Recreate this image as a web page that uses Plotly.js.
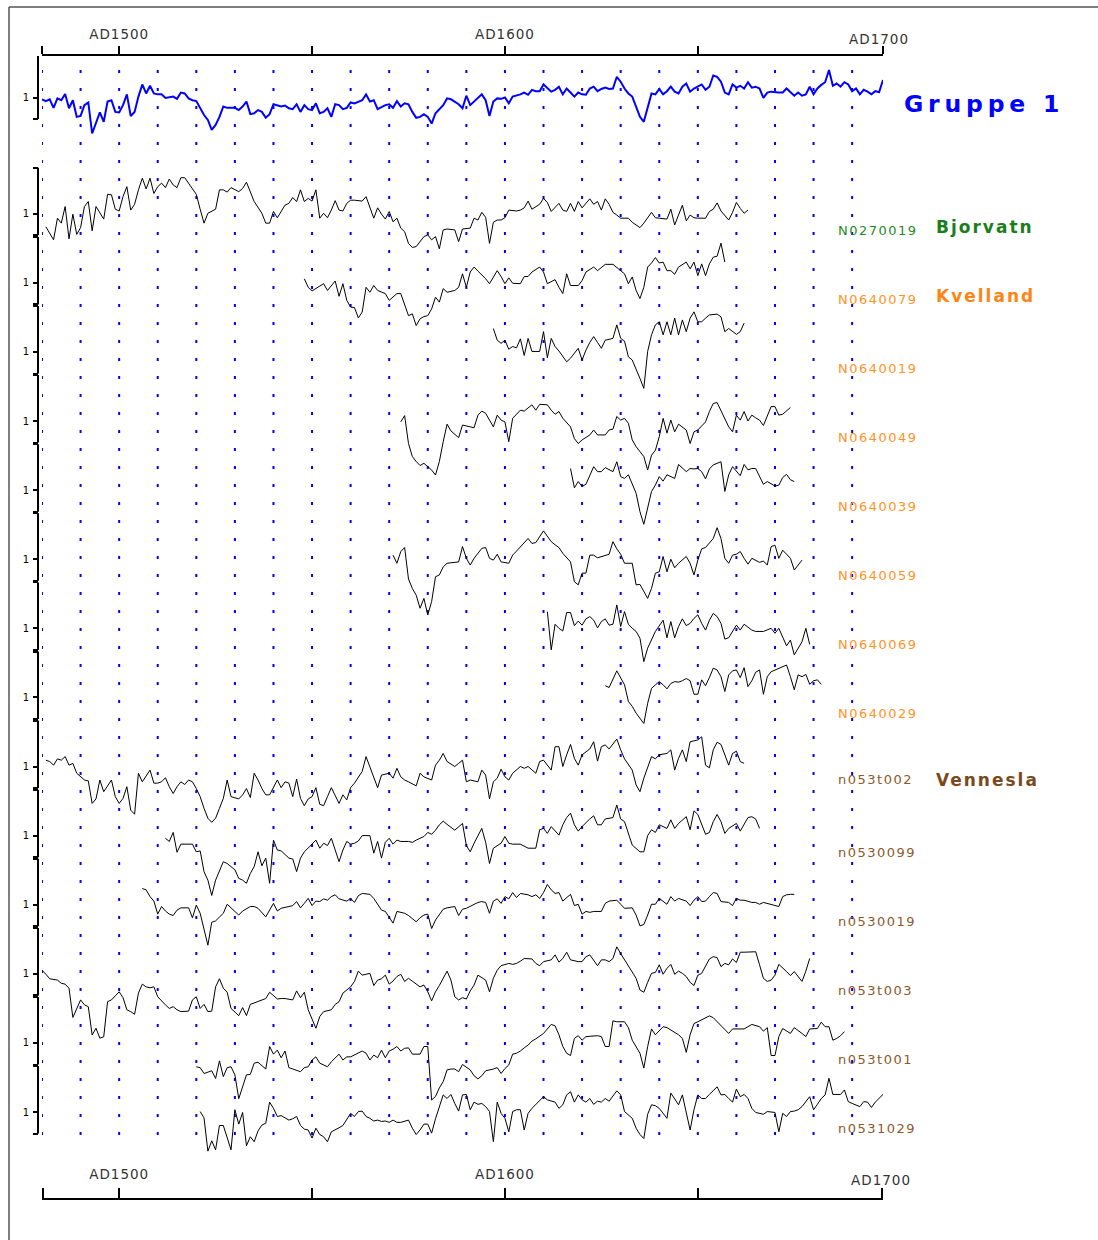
<!DOCTYPE html>
<html><head><meta charset="utf-8">
<script src="https://cdn.plot.ly/plotly-3.0.1.min.js"></script>
<style>html,body{margin:0;padding:0;background:#fff;}#chart{width:1098px;height:1240px;}</style>
</head><body><div id="chart"></div>
<script>
// ---------- data: [year, index] ----------
const Gruppe1 = [[1480,.96],[1481,.92],[1482,.96],[1483,.77],[1484,.98],[1485,.94],[1486,1.08],[1487,.76],[1488,.94],[1489,.57],[1490,.59],[1491,.83],[1492,.89],[1493,.20],[1495,.67],[1496,.46],[1497,.91],[1498,.94],[1499,.68],[1500,.67],[1501,.83],[1502,1.07],[1503,.59],[1504,.68],[1505,1.02],[1506,1.29],[1507,1.09],[1508,1.26],[1509,1.09],[1510,1.07],[1511,1.07],[1512,.99],[1514,1.02],[1515,.97],[1516,1.11],[1517,1.09],[1518,.98],[1519,.94],[1520,.92],[1521,.76],[1522,.61],[1523,.50],[1524,.28],[1525,.39],[1526,.57],[1527,.80],[1528,.77],[1530,.77],[1531,.72],[1532,.80],[1533,.91],[1534,.63],[1535,.65],[1536,.72],[1537,.68],[1538,.55],[1539,.63],[1540,.85],[1541,.83],[1542,.80],[1543,.82],[1544,.76],[1545,.74],[1546,.85],[1547,.68],[1548,.83],[1549,.74],[1550,.72],[1551,.87],[1552,.65],[1553,.68],[1554,.76],[1555,.57],[1556,.85],[1557,.83],[1558,.74],[1559,.77],[1560,.89],[1561,.87],[1562,.91],[1563,.94],[1564,1.07],[1565,.91],[1566,.94],[1567,.74],[1569,.83],[1570,.85],[1571,.77],[1572,.92],[1573,.80],[1574,.87],[1575,.85],[1576,.68],[1577,.55],[1578,.57],[1579,.63],[1580,.57],[1581,.42],[1582,.65],[1584,.83],[1585,.98],[1586,.96],[1588,.85],[1589,.76],[1590,1.04],[1591,.83],[1592,.91],[1593,1.00],[1594,1.07],[1595,.94],[1596,.59],[1597,.91],[1598,.98],[1599,.97],[1600,1.00],[1601,.87],[1602,1.02],[1604,1.07],[1605,1.11],[1606,1.06],[1607,1.17],[1608,1.14],[1609,1.14],[1610,1.29],[1611,1.20],[1612,1.13],[1613,1.17],[1614,1.24],[1615,1.07],[1616,1.20],[1617,1.11],[1618,1.02],[1619,1.11],[1620,1.07],[1621,1.06],[1622,1.20],[1623,1.24],[1624,1.14],[1625,1.19],[1626,1.22],[1627,1.19],[1628,1.20],[1629,1.46],[1630,1.35],[1631,1.20],[1632,1.09],[1633,1.02],[1634,.80],[1635,.57],[1636,.46],[1637,.77],[1638,1.09],[1639,1.07],[1640,1.19],[1641,1.07],[1642,1.14],[1643,1.24],[1644,1.13],[1645,1.09],[1646,1.24],[1647,1.31],[1648,1.13],[1649,1.20],[1650,1.24],[1651,1.29],[1652,1.17],[1653,1.24],[1654,1.49],[1655,1.46],[1656,1.35],[1657,1.11],[1658,1.07],[1659,1.29],[1660,1.22],[1661,1.26],[1662,1.20],[1663,1.34],[1664,1.22],[1665,1.24],[1666,1.20],[1667,.99],[1668,1.11],[1669,1.13],[1671,1.11],[1672,1.11],[1673,1.20],[1674,1.11],[1675,1.04],[1676,1.11],[1677,1.04],[1678,1.07],[1679,1.24],[1680,1.07],[1681,1.20],[1682,1.28],[1683,1.34],[1684,1.61],[1685,1.26],[1686,1.31],[1687,1.24],[1688,1.34],[1689,1.29],[1690,1.14],[1691,1.20],[1692,1.07],[1693,1.17],[1694,1.13],[1695,1.07],[1696,1.14],[1697,1.12],[1698,1.39]];

const N0270019 = [[1481,.71],[1482,.56],[1483,.42],[1484,.90],[1485,.79],[1486,1.16],[1487,.44],[1488,.99],[1489,.54],[1490,.69],[1491,1.16],[1492,1.27],[1493,.62],[1494,1.16],[1496,.88],[1497,1.43],[1498,1.42],[1499,1.10],[1500,1.06],[1501,1.38],[1502,1.60],[1503,1.08],[1504,1.21],[1505,1.53],[1506,1.79],[1507,1.55],[1508,1.79],[1509,1.45],[1510,1.60],[1511,1.68],[1512,1.58],[1513,1.77],[1514,1.64],[1515,1.58],[1516,1.80],[1517,1.80],[1518,1.68],[1519,1.56],[1520,1.43],[1521,1.10],[1522,.79],[1523,1.01],[1524,1.06],[1525,1.10],[1526,1.53],[1527,1.53],[1528,1.48],[1529,1.58],[1531,1.49],[1532,1.56],[1533,1.70],[1534,1.48],[1535,1.27],[1537,1.01],[1538,.79],[1539,.79],[1540,1.05],[1541,.91],[1542,1.06],[1543,1.19],[1544,1.23],[1545,1.36],[1546,1.27],[1547,1.53],[1548,1.27],[1549,1.34],[1550,1.28],[1551,1.53],[1552,.90],[1553,1.01],[1554,.91],[1555,1.08],[1556,1.29],[1557,1.08],[1558,1.06],[1559,1.23],[1560,1.30],[1561,1.30],[1563,1.28],[1564,1.38],[1566,.90],[1567,1.13],[1568,.99],[1569,.88],[1570,1.05],[1571,.82],[1572,.90],[1573,.68],[1574,.60],[1575,.34],[1576,.25],[1577,.27],[1579,.49],[1580,.53],[1581,.42],[1582,.49],[1583,.22],[1584,.64],[1585,.66],[1587,.64],[1588,.38],[1589,.66],[1591,.68],[1592,.90],[1593,.86],[1594,1.03],[1595,.92],[1596,.34],[1597,.81],[1598,.86],[1599,.86],[1600,.91],[1601,1.08],[1603,1.06],[1604,1.08],[1605,1.13],[1606,1.28],[1607,1.10],[1609,1.21],[1610,1.34],[1611,1.25],[1612,1.05],[1614,1.23],[1615,1.08],[1616,1.05],[1617,1.23],[1618,1.05],[1619,1.27],[1620,1.13],[1621,1.23],[1622,1.33],[1623,1.21],[1624,1.27],[1625,1.08],[1626,1.33],[1627,1.21],[1628,1.03],[1629,.97],[1630,.90],[1632,.90],[1633,.81],[1635,.69],[1636,.79],[1638,1.03],[1639,.91],[1640,.90],[1642,.88],[1643,1.10],[1644,.75],[1645,.97],[1646,1.19],[1647,.84],[1648,.97],[1649,.91],[1650,.90],[1652,.90],[1653,1.05],[1654,1.10],[1655,1.24],[1656,1.06],[1658,.86],[1659,1.03],[1660,1.25],[1661,1.12],[1662,1.01],[1663,1.08]];

const N0640079 = [[1548,1.09],[1549,.90],[1550,.82],[1551,.87],[1553,.98],[1554,.83],[1556,1.04],[1557,.70],[1558,.98],[1559,.61],[1560,.46],[1561,.45],[1562,.22],[1563,.35],[1564,.90],[1565,.79],[1566,.94],[1567,.83],[1569,.76],[1570,.61],[1572,.76],[1573,.76],[1574,.53],[1575,.27],[1576,.31],[1577,.05],[1578,.20],[1579,.25],[1580,.27],[1581,.42],[1582,.68],[1583,.57],[1584,.87],[1585,.79],[1587,.83],[1588,.90],[1589,1.20],[1590,.90],[1591,1.24],[1592,1.35],[1593,1.26],[1595,1.09],[1596,.98],[1597,1.11],[1598,1.27],[1599,1.14],[1600,.98],[1601,1.11],[1602,.99],[1604,.98],[1605,1.14],[1606,1.14],[1607,1.24],[1609,1.35],[1610,1.24],[1611,.98],[1613,1.07],[1614,.90],[1615,.76],[1616,1.20],[1617,.94],[1619,.94],[1620,1.05],[1621,1.24],[1623,1.35],[1624,1.27],[1626,1.41],[1628,1.41],[1629,1.35],[1630,1.27],[1631,1.20],[1632,.98],[1633,1.13],[1634,.83],[1635,.65],[1636,.90],[1637,1.35],[1638,1.44],[1639,1.56],[1640,1.44],[1641,1.46],[1642,1.27],[1643,1.27],[1644,1.19],[1645,1.35],[1647,1.46],[1648,1.31],[1649,1.46],[1650,1.16],[1651,1.42],[1652,1.16],[1653,1.42],[1654,1.57],[1655,1.59],[1656,1.88],[1657,1.46]];

const N0640019 = [[1597,1.52],[1598,1.26],[1599,1.19],[1600,1.26],[1601,1.06],[1602,1.12],[1603,1.09],[1604,1.29],[1605,.92],[1606,1.30],[1607,1.01],[1609,1.01],[1610,1.45],[1611,.87],[1612,1.30],[1613,1.12],[1614,1.02],[1615,.89],[1616,.78],[1617,.86],[1619,1.08],[1620,.82],[1621,1.04],[1622,1.21],[1623,1.34],[1624,1.21],[1625,1.08],[1626,1.26],[1628,1.30],[1629,1.60],[1630,1.30],[1631,1.24],[1632,.89],[1633,.82],[1634,.63],[1635,.41],[1636,.19],[1637,1.01],[1638,1.38],[1639,1.60],[1640,1.67],[1641,1.38],[1642,1.67],[1643,1.38],[1644,1.75],[1645,1.38],[1646,1.71],[1647,1.45],[1648,1.75],[1649,1.89],[1650,1.67],[1651,1.67],[1652,1.75],[1653,1.82],[1655,1.84],[1656,1.78],[1657,1.45],[1658,1.52],[1660,1.39],[1661,1.45],[1662,1.64]];

const N0640049 = [[1573,.98],[1574,1.12],[1575,.50],[1576,.21],[1577,.10],[1578,.01],[1579,.06],[1580,-.01],[1581,-.09],[1582,-.20],[1583,.10],[1584,.54],[1585,.93],[1586,.78],[1588,.63],[1589,.91],[1591,.87],[1592,.85],[1593,1.13],[1594,1.22],[1595,1.17],[1597,.87],[1598,1.13],[1599,1.02],[1600,.98],[1601,.54],[1602,1.06],[1604,1.24],[1605,1.22],[1607,1.36],[1608,1.24],[1609,1.37],[1611,1.36],[1612,1.24],[1613,1.15],[1614,1.21],[1615,1.06],[1617,.87],[1618,.61],[1619,.50],[1620,.58],[1622,.69],[1623,.80],[1624,.69],[1626,.69],[1627,.80],[1628,.82],[1629,1.10],[1630,1.02],[1631,1.06],[1632,.95],[1633,.58],[1634,.43],[1636,.21],[1637,-.09],[1638,.24],[1639,.35],[1640,.65],[1641,1.06],[1642,.73],[1643,1.02],[1644,.76],[1645,.93],[1646,.87],[1647,.80],[1648,.50],[1649,.76],[1650,.80],[1652,.98],[1653,1.21],[1654,1.39],[1655,1.41],[1657,1.06],[1658,.87],[1659,.76],[1660,1.13],[1661,1.02],[1662,1.21],[1663,1.00],[1664,1.13],[1665,1.07],[1666,1.02],[1667,.90],[1669,1.32],[1670,1.32],[1671,1.13],[1672,1.15],[1674,1.30]];

const N0640039 = [[1617,1.48],[1618,1.05],[1619,1.19],[1620,1.08],[1621,1.13],[1622,1.34],[1623,1.52],[1624,1.41],[1625,1.41],[1626,1.50],[1628,1.41],[1629,1.63],[1630,1.30],[1631,1.26],[1632,1.34],[1634,.93],[1635,.52],[1636,.24],[1637,.63],[1638,.97],[1639,1.11],[1640,1.30],[1641,1.20],[1642,1.34],[1644,1.26],[1645,1.57],[1647,1.41],[1648,1.48],[1649,1.47],[1650,1.48],[1651,1.41],[1652,1.25],[1653,1.47],[1654,1.56],[1656,1.63],[1657,.97],[1658,1.34],[1659,1.52],[1661,1.32],[1662,1.57],[1663,1.45],[1664,1.48],[1665,1.48],[1666,1.30],[1667,1.13],[1668,1.19],[1670,1.09],[1671,1.11],[1672,1.28],[1673,1.35],[1674,1.23],[1675,1.19]];

const N0640059 = [[1571,1.09],[1572,.91],[1573,1.17],[1574,1.26],[1575,.56],[1576,.35],[1577,.20],[1578,-.09],[1579,.13],[1580,-.24],[1581,.06],[1582,.61],[1583,.65],[1584,.83],[1585,.91],[1587,.94],[1588,.94],[1589,1.28],[1590,1.02],[1591,.87],[1592,1.02],[1594,1.24],[1595,1.26],[1596,1.02],[1597,.98],[1598,1.11],[1599,.94],[1601,.91],[1602,1.09],[1603,1.18],[1604,1.28],[1606,1.46],[1607,1.35],[1608,1.37],[1610,1.63],[1611,1.52],[1612,1.39],[1613,1.32],[1614,1.26],[1615,1.13],[1617,.94],[1618,.50],[1619,.43],[1620,.69],[1621,.69],[1622,1.09],[1623,1.09],[1624,1.03],[1626,1.09],[1627,1.11],[1628,1.39],[1629,1.23],[1630,1.11],[1631,.91],[1633,.91],[1634,.43],[1635,.44],[1637,.13],[1638,.35],[1639,.69],[1640,.72],[1641,1.06],[1642,.72],[1643,1.00],[1644,.81],[1645,.91],[1647,1.06],[1648,.91],[1649,.65],[1650,.98],[1651,1.23],[1652,1.26],[1654,1.46],[1655,1.70],[1656,1.46],[1657,1.02],[1658,.91],[1659,1.09],[1660,1.11],[1661,1.17],[1662,1.02],[1663,.89],[1664,1.02],[1666,.93],[1667,.96],[1668,.87],[1669,1.28],[1670,1.31],[1671,1.02],[1672,1.20],[1674,1.02],[1675,.76],[1677,.98]];

const N0640069 = [[1611,1.37],[1612,.52],[1613,1.09],[1614,1.00],[1615,.94],[1616,1.35],[1617,1.35],[1618,1.06],[1619,1.16],[1620,1.07],[1621,1.21],[1622,1.26],[1623,1.18],[1624,1.01],[1625,1.15],[1626,1.21],[1627,1.07],[1628,1.09],[1629,1.52],[1630,1.04],[1631,1.37],[1632,1.09],[1633,1.00],[1634,.93],[1635,.78],[1636,.26],[1637,.56],[1638,.74],[1639,.93],[1641,1.18],[1642,.79],[1643,1.15],[1644,.79],[1645,1.04],[1646,1.21],[1647,1.06],[1648,1.11],[1649,1.22],[1650,1.30],[1651,1.11],[1652,.96],[1653,1.18],[1654,1.33],[1655,1.26],[1656,1.11],[1657,.76],[1658,.79],[1660,1.07],[1661,.96],[1662,1.09],[1664,.96],[1665,.93],[1666,.93],[1667,.93],[1669,1.00],[1670,.89],[1671,1.00],[1672,.81],[1673,.61],[1674,.74],[1675,.41],[1677,.70],[1678,1.00],[1679,.64]];

const N0640029 = [[1626,1.26],[1627,1.22],[1629,1.59],[1630,1.44],[1631,1.28],[1632,.91],[1633,.80],[1634,.65],[1635,.54],[1636,.42],[1637,.87],[1638,1.20],[1639,1.28],[1640,1.35],[1641,1.28],[1642,1.19],[1643,1.31],[1644,1.35],[1645,1.34],[1646,1.37],[1647,1.42],[1648,1.37],[1649,1.07],[1650,1.07],[1651,1.39],[1652,1.26],[1653,1.44],[1654,1.65],[1655,1.61],[1656,1.46],[1657,1.13],[1658,1.50],[1659,1.59],[1660,1.61],[1661,1.44],[1662,1.66],[1663,1.24],[1664,1.37],[1665,1.56],[1666,1.61],[1667,1.07],[1668,1.46],[1669,1.57],[1671,1.65],[1673,1.72],[1674,1.46],[1675,1.17],[1676,1.50],[1677,1.46],[1678,1.51],[1679,1.29],[1680,1.37],[1681,1.39],[1682,1.29]];

const n053t002 = [[1481,1.14],[1482,1.11],[1483,1.03],[1484,1.17],[1485,1.14],[1486,1.22],[1487,1.03],[1488,1.07],[1489,.85],[1490,.77],[1491,.70],[1492,.68],[1493,.18],[1494,.28],[1495,.70],[1496,.44],[1497,.57],[1498,.70],[1499,.33],[1500,.18],[1501,.29],[1502,.55],[1503,.03],[1504,-.06],[1505,.85],[1506,.66],[1508,.92],[1509,.63],[1510,.63],[1511,.66],[1512,.75],[1513,.55],[1514,.40],[1515,.55],[1516,.66],[1517,.60],[1518,.70],[1519,.66],[1520,.51],[1521,.33],[1522,.07],[1523,-.15],[1524,-.24],[1525,-.15],[1526,.07],[1527,.29],[1528,.70],[1529,.33],[1531,.28],[1532,.37],[1533,.51],[1534,.31],[1535,.85],[1536,.70],[1537,.51],[1538,.37],[1539,.37],[1540,.55],[1541,.70],[1542,.53],[1543,.66],[1544,.63],[1545,.33],[1546,.72],[1547,.29],[1548,.13],[1549,.28],[1550,.33],[1551,.53],[1552,.16],[1553,.13],[1554,.33],[1555,.53],[1557,.18],[1558,.37],[1559,.26],[1560,.53],[1561,.63],[1563,.89],[1564,1.22],[1566,.75],[1567,.53],[1568,.81],[1570,.85],[1571,.74],[1572,.96],[1573,.77],[1574,.70],[1575,.66],[1577,.57],[1578,.85],[1579,.77],[1581,.70],[1582,1.03],[1583,1.14],[1584,1.29],[1585,1.11],[1587,1.00],[1588,1.07],[1589,1.14],[1590,.66],[1591,.70],[1593,.66],[1594,.92],[1595,.81],[1596,.28],[1597,.66],[1598,.74],[1599,.94],[1600,.77],[1601,.70],[1602,.85],[1604,1.00],[1605,.96],[1606,1.00],[1607,.92],[1608,.85],[1609,1.11],[1610,1.14],[1612,.92],[1613,1.44],[1614,1.44],[1615,1.00],[1616,1.26],[1617,1.49],[1618,1.18],[1619,1.03],[1620,1.26],[1622,1.39],[1623,1.55],[1624,1.12],[1625,1.44],[1626,1.48],[1627,1.39],[1629,1.61],[1630,1.37],[1631,1.17],[1633,.92],[1634,.59],[1635,.44],[1636,.74],[1638,1.22],[1639,1.17],[1640,1.26],[1642,1.29],[1643,1.37],[1644,.92],[1645,1.18],[1646,1.37],[1647,1.11],[1648,1.55],[1650,1.59],[1651,1.66],[1652,1.03],[1653,.97],[1654,1.37],[1655,1.54],[1656,1.49],[1657,1.24],[1658,1.03],[1659,1.29],[1660,1.34],[1661,1.11],[1662,1.07]];

const n0530099 = [[1512,.94],[1513,.87],[1514,1.07],[1515,.63],[1516,.81],[1519,.81],[1520,.64],[1521,.66],[1522,.20],[1523,.01],[1524,-.33],[1525,.01],[1527,.42],[1528,.38],[1530,.24],[1531,.05],[1532,.01],[1533,-.06],[1534,.16],[1535,.31],[1536,.64],[1537,.33],[1538,.50],[1539,-.06],[1540,.90],[1541,.68],[1542,.66],[1544,.50],[1545,.48],[1546,.20],[1547,.50],[1548,.64],[1550,.81],[1551,.90],[1552,.72],[1553,.83],[1554,.78],[1555,.94],[1556,.68],[1557,.42],[1558,.68],[1559,.87],[1560,.81],[1561,.83],[1562,.88],[1563,1.00],[1565,1.00],[1566,.61],[1567,.87],[1568,.50],[1569,.85],[1570,.94],[1571,.81],[1572,.90],[1573,.87],[1575,.87],[1576,.85],[1577,.90],[1579,.98],[1580,1.07],[1581,1.03],[1582,1.12],[1583,1.24],[1584,1.32],[1585,1.25],[1587,1.12],[1589,1.27],[1590,.78],[1591,.64],[1592,.83],[1594,1.16],[1595,.85],[1596,.38],[1597,.72],[1599,.83],[1600,.98],[1601,.83],[1602,.81],[1604,.81],[1606,.72],[1608,.72],[1609,1.13],[1610,1.16],[1611,1.05],[1612,1.20],[1613,1.10],[1614,1.01],[1615,1.24],[1616,1.40],[1617,1.50],[1618,1.24],[1619,1.10],[1620,1.20],[1622,1.37],[1623,1.44],[1624,1.24],[1625,1.24],[1626,1.37],[1628,1.40],[1629,1.68],[1630,1.37],[1631,1.31],[1632,1.07],[1633,.79],[1635,.64],[1636,.64],[1637,1.00],[1638,1.13],[1639,1.07],[1640,1.24],[1642,1.16],[1643,1.35],[1644,1.16],[1645,1.27],[1647,1.42],[1648,1.13],[1649,1.55],[1650,1.47],[1652,1.03],[1653,1.07],[1654,1.31],[1655,1.47],[1656,1.31],[1657,1.05],[1658,1.16],[1660,1.27],[1661,1.10],[1662,1.24],[1663,1.40],[1664,1.42],[1665,1.37],[1666,1.16]];

const n0530019 = [[1506,1.36],[1507,1.33],[1508,1.18],[1509,1.08],[1510,.79],[1511,.96],[1512,.86],[1513,.79],[1514,.76],[1515,.88],[1516,.93],[1518,.93],[1519,.71],[1520,.99],[1521,.81],[1522,.47],[1523,.10],[1524,.61],[1525,.64],[1527,.81],[1528,1.01],[1529,.93],[1531,.77],[1532,.86],[1534,.96],[1535,.96],[1536,.92],[1538,.73],[1539,.88],[1540,1.03],[1541,.86],[1542,.92],[1544,.96],[1545,.98],[1546,1.07],[1547,.93],[1548,1.03],[1549,1.14],[1550,.98],[1551,1.08],[1552,1.07],[1553,1.13],[1554,1.10],[1555,1.18],[1556,1.22],[1557,1.13],[1559,1.08],[1560,1.14],[1561,1.05],[1562,1.20],[1563,1.25],[1565,1.23],[1566,1.14],[1567,1.01],[1568,.88],[1569,.85],[1571,.59],[1572,.85],[1573,.83],[1574,.81],[1575,.76],[1577,.62],[1578,.71],[1579,.77],[1580,.79],[1581,.47],[1582,.66],[1583,.77],[1584,.90],[1585,.93],[1587,.96],[1588,.76],[1589,.90],[1590,.92],[1591,.96],[1593,1.05],[1594,1.07],[1595,1.05],[1596,.81],[1597,1.08],[1598,1.13],[1599,1.03],[1600,1.18],[1601,1.13],[1602,1.27],[1603,1.16],[1604,1.25],[1606,1.22],[1607,1.18],[1608,1.22],[1609,1.14],[1610,1.27],[1611,1.45],[1612,1.33],[1613,1.25],[1614,1.27],[1615,1.08],[1617,1.23],[1618,.98],[1619,1.01],[1620,.79],[1621,.85],[1622,.83],[1623,.85],[1625,.85],[1626,1.03],[1627,1.08],[1629,1.10],[1630,1.01],[1631,.92],[1633,.93],[1634,.77],[1635,.53],[1636,.56],[1637,.77],[1638,1.01],[1639,1.01],[1640,1.14],[1642,1.01],[1643,1.18],[1644,1.08],[1645,1.14],[1647,1.08],[1648,.98],[1649,1.10],[1650,1.18],[1651,1.07],[1652,1.08],[1653,1.18],[1654,1.27],[1655,1.25],[1656,1.07],[1658,1.05],[1659,.98],[1660,1.14],[1661,1.10],[1662,1.10],[1664,1.05],[1665,1.05],[1666,1.01],[1667,1.05],[1669,1.01],[1670,.98],[1671,.96],[1672,1.18],[1673,1.22],[1674,1.23],[1675,1.23]];

const n053t003 = [[1479,.97],[1480,1.08],[1481,.99],[1482,.89],[1484,.86],[1485,.79],[1486,.77],[1487,.68],[1488,.03],[1489,.23],[1490,.42],[1491,.31],[1492,.27],[1493,-.36],[1494,-.21],[1495,-.43],[1496,-.40],[1497,.38],[1498,.42],[1499,.51],[1500,.60],[1501,.47],[1502,.20],[1503,.16],[1504,.10],[1505,.57],[1506,.77],[1507,.71],[1508,.69],[1509,.71],[1510,.49],[1512,.31],[1513,.23],[1514,.27],[1515,.20],[1516,.16],[1518,.17],[1519,.42],[1520,.49],[1521,.23],[1522,.32],[1523,.16],[1524,.17],[1525,.71],[1526,.89],[1527,.68],[1528,.59],[1529,.23],[1530,.16],[1531,.07],[1532,.25],[1533,.07],[1534,.32],[1536,.38],[1538,.45],[1539,.59],[1541,.44],[1542,.45],[1543,.45],[1545,.42],[1546,.62],[1547,.47],[1548,.59],[1549,.20],[1550,.01],[1551,-.21],[1552,.05],[1553,.16],[1555,.20],[1556,.32],[1557,.38],[1558,.57],[1560,.71],[1561,.83],[1562,1.06],[1563,.97],[1565,1.01],[1566,.74],[1567,.86],[1568,.89],[1569,.97],[1570,.77],[1571,.84],[1572,.94],[1573,.99],[1574,.83],[1575,.90],[1576,.84],[1578,.71],[1579,.75],[1580,.60],[1581,.40],[1582,.60],[1583,.74],[1585,1.06],[1586,.86],[1587,.49],[1588,.42],[1589,.47],[1590,.44],[1591,.62],[1592,.75],[1593,.97],[1595,.86],[1596,.60],[1597,.90],[1598,1.08],[1599,1.18],[1601,1.23],[1602,1.21],[1603,1.23],[1604,1.28],[1605,1.34],[1607,1.33],[1608,1.23],[1609,1.18],[1610,1.27],[1612,1.31],[1613,1.42],[1614,1.26],[1615,1.34],[1616,1.48],[1617,1.31],[1619,1.27],[1620,1.27],[1621,1.38],[1622,1.42],[1624,1.18],[1625,1.31],[1626,1.31],[1627,1.27],[1628,1.34],[1629,1.60],[1630,1.45],[1631,1.31],[1632,1.20],[1633,1.06],[1634,.90],[1635,.64],[1636,.59],[1637,.81],[1638,1.01],[1639,1.03],[1640,1.20],[1641,.99],[1642,1.12],[1643,1.21],[1644,.99],[1645,1.06],[1646,1.01],[1647,.94],[1648,.81],[1649,.74],[1650,.97],[1651,1.01],[1652,1.18],[1653,1.33],[1654,1.38],[1655,1.36],[1656,1.16],[1657,1.23],[1658,1.20],[1659,1.33],[1660,1.25],[1661,1.48],[1662,1.48],[1664,1.48],[1665,1.49],[1666,1.20],[1667,.90],[1668,.83],[1669,.86],[1670,.97],[1671,1.21],[1673,1.05],[1674,.96],[1675,1.05],[1677,.83],[1678,1.06],[1679,1.34]];

const n053t001 = [[1520,.47],[1521,.45],[1522,.32],[1524,.38],[1525,.21],[1526,.60],[1527,.25],[1528,.45],[1529,.47],[1530,.29],[1531,-.24],[1532,.03],[1533,.29],[1534,.30],[1535,.55],[1536,.57],[1538,.42],[1539,.92],[1540,.75],[1541,.84],[1542,.67],[1543,.82],[1544,.45],[1545,.42],[1547,.36],[1548,.45],[1549,.47],[1550,.62],[1551,.69],[1552,.55],[1553,.51],[1554,.47],[1555,.58],[1556,.67],[1557,.75],[1558,.62],[1559,.69],[1560,.69],[1561,.73],[1563,.82],[1564,.77],[1565,.62],[1566,.73],[1567,.67],[1568,.84],[1569,.67],[1570,.82],[1571,.86],[1572,.92],[1573,.82],[1574,.88],[1575,.89],[1576,.75],[1578,.75],[1579,.92],[1580,.92],[1581,-.27],[1582,-.19],[1583,.00],[1584,.14],[1585,.40],[1586,.42],[1587,.42],[1588,.36],[1589,.52],[1590,.45],[1591,.40],[1592,.27],[1593,.20],[1594,.27],[1595,.38],[1597,.42],[1598,.45],[1599,.32],[1600,.43],[1601,.51],[1602,.75],[1603,.77],[1604,.82],[1605,.89],[1606,.95],[1607,1.04],[1608,1.09],[1610,1.21],[1611,1.31],[1612,1.41],[1613,1.38],[1614,1.18],[1615,.92],[1616,.77],[1617,.72],[1618,1.10],[1619,1.16],[1620,1.06],[1621,1.14],[1623,1.16],[1624,1.16],[1625,1.14],[1626,.92],[1627,.92],[1628,1.49],[1629,1.47],[1631,1.47],[1632,1.34],[1633,1.06],[1635,.77],[1636,.44],[1637,.92],[1638,1.31],[1639,1.18],[1640,1.26],[1641,1.36],[1642,1.34],[1643,1.29],[1645,1.18],[1646,1.10],[1647,.79],[1648,1.18],[1649,1.43],[1650,1.47],[1651,1.51],[1652,1.56],[1653,1.60],[1654,1.56],[1655,1.47],[1656,1.40],[1658,1.21],[1659,1.31],[1660,1.31],[1662,1.31],[1664,1.41],[1665,1.38],[1666,1.36],[1667,1.26],[1668,1.34],[1669,.72],[1670,.72],[1671,1.14],[1672,1.32],[1674,1.21],[1675,1.34],[1677,1.21],[1678,1.14],[1679,1.31],[1680,1.31],[1681,1.32],[1682,1.46],[1683,1.36],[1684,1.36],[1685,1.06],[1686,1.10],[1687,1.16],[1688,1.25]];

const n0531029 = [[1521,1.01],[1522,.87],[1523,.13],[1524,.36],[1525,.16],[1526,.70],[1527,.70],[1528,.42],[1529,.16],[1530,1.05],[1531,.73],[1532,.99],[1533,.25],[1534,.45],[1535,.34],[1536,.58],[1537,.71],[1538,.75],[1539,1.22],[1540,1.08],[1541,.90],[1542,.92],[1543,.86],[1544,.82],[1545,.85],[1546,.90],[1547,.70],[1548,.62],[1549,.60],[1550,.42],[1551,.64],[1552,.50],[1553,.45],[1554,.34],[1555,.56],[1556,.60],[1557,.65],[1558,.70],[1559,.85],[1560,.97],[1561,.90],[1562,1.01],[1563,1.02],[1564,.90],[1565,.86],[1566,.80],[1567,.82],[1568,.79],[1569,.80],[1570,.77],[1571,.82],[1572,.77],[1573,.77],[1575,.82],[1576,.64],[1577,.50],[1578,.60],[1579,.73],[1580,.73],[1581,.53],[1582,.85],[1583,1.10],[1584,1.38],[1585,1.30],[1586,1.39],[1587,1.19],[1588,1.02],[1589,1.38],[1590,1.39],[1591,1.05],[1592,1.22],[1593,1.17],[1594,1.19],[1595,1.12],[1596,1.01],[1597,.34],[1598,1.22],[1599,.97],[1600,.86],[1601,.56],[1602,1.01],[1603,1.05],[1604,1.05],[1605,.60],[1606,.97],[1607,1.08],[1608,1.17],[1610,1.34],[1611,1.27],[1613,1.22],[1614,1.08],[1615,1.16],[1616,1.38],[1617,1.45],[1618,1.22],[1619,1.38],[1620,1.27],[1621,1.22],[1622,1.30],[1623,1.17],[1624,1.24],[1625,1.22],[1626,1.30],[1627,1.24],[1629,1.47],[1630,1.38],[1631,1.01],[1632,.93],[1633,.86],[1634,.64],[1635,.50],[1636,.41],[1637,.95],[1638,1.16],[1639,1.14],[1640,1.08],[1642,.86],[1643,1.42],[1644,1.30],[1645,1.16],[1646,1.38],[1647,.95],[1648,.60],[1649,1.05],[1650,1.38],[1651,1.30],[1652,1.30],[1653,1.39],[1655,1.56],[1656,1.38],[1657,1.39],[1658,1.30],[1659,1.22],[1660,1.51],[1661,1.34],[1662,1.39],[1663,1.30],[1664,1.08],[1665,.99],[1667,.95],[1668,1.01],[1670,.99],[1671,.56],[1672,.97],[1673,.90],[1674,1.01],[1675,1.02],[1676,1.05],[1677,1.12],[1679,1.34],[1680,1.05],[1681,1.17],[1682,1.30],[1683,1.38],[1684,1.75],[1685,1.39],[1686,1.39],[1687,1.39],[1688,1.49],[1689,1.23],[1690,1.19],[1692,1.12],[1693,1.23],[1694,1.22],[1695,1.10],[1696,1.22],[1698,1.39]];

// ---------- labels ----------
const seriesNames = ['Gruppe 1','N0270019','N0640079','N0640019','N0640049','N0640039','N0640059','N0640069','N0640029','n053t002','n0530099','n0530019','n053t003','n053t001','n0531029'];
const seriesData = [Gruppe1,N0270019,N0640079,N0640019,N0640049,N0640039,N0640059,N0640069,N0640029,n053t002,n0530099,n0530019,n053t003,n053t001,n0531029];
const seriesGroup = ['gruppe','bjorvatn','kvelland','kvelland','kvelland','kvelland','kvelland','kvelland','kvelland','vennesla','vennesla','vennesla','vennesla','vennesla','vennesla'];
const groupTitles = {bjorvatn:['Bjorvatn',1], kvelland:['Kvelland',2], vennesla:['Vennesla',9]};
const axisTickYears = [1480, 1500, 1550, 1600, 1650, 1698];
const axisTickText = ['', 'AD1500', '', 'AD1600', '', ''];
const axisEndLabel = 'AD1700';

// ---------- styling / geometry ----------
const W = 1098, H = 1240, ML = 38, MR = 215, MT = 56, MB = 42;
const PW = W - ML - MR, PH = H - MT - MB;
const PX_PER_UNIT = 45;
const FONT = 'DejaVu Sans';
const groupColor = {gruppe:'#0000ff', bjorvatn:'#1f8a1f', kvelland:'#ff9326', vennesla:'#8b5a2b'};
const groupTitleColor = {bjorvatn:'#1a7f1a', kvelland:'#ff8414', vennesla:'#7a4a1e'};
const px2paperX = px => (px - ML) / PW;
const px2paperY = py => (H - MB - py) / PH;
const rowOne = seriesNames.map((_, i) => i === 0 ? 97.5 : 213.7 + 69.1 * (i - 1));
const BR_LO = 0.52, BR_HI = 2.02;
const tickLabels = axisTickText.map(t => t ? '<span style="letter-spacing:1px">' + t + '</span>' : '');
// inside ticks exactly on the range ends are dropped by Plotly: nudge them just inside
const bottomTickVals = axisTickYears.map((v, i) => i === 0 ? v + 0.3 : (i === axisTickYears.length - 1 ? v - 0.3 : v));

const traces = seriesData.map((d, i) => ({
  type: 'scatter', mode: 'lines',
  x: d.map(p => p[0]), y: d.map(p => p[1]),
  xaxis: i === 0 ? 'x2' : 'x',
  yaxis: i === 0 ? 'y' : 'y' + (i + 1),
  line: {color: i === 0 ? '#0000ff' : '#000000', width: i === 0 ? 2 : 1},
  hoverinfo: 'skip', showlegend: false
}));

const layout = {
  width: W, height: H,
  margin: {l: ML, r: MR, t: MT, b: MB, pad: 0},
  paper_bgcolor: '#fff', plot_bgcolor: 'rgba(0,0,0,0)',
  showlegend: false, hovermode: false,
  font: {family: FONT, color: '#222'},
  xaxis: {
    domain: [px2paperX(42), 1], range: [1480, 1698], side: 'top', anchor: 'y',
    showgrid: false, zeroline: false, showline: true, linecolor: '#000', linewidth: 2,
    ticks: 'outside', ticklen: 8, tickwidth: 2, tickcolor: '#000',
    tickmode: 'array', tickvals: axisTickYears, ticktext: tickLabels,
    tickfont: {family: FONT, size: 13.5, color: '#333'}, ticklabelstandoff: 2
  },
  xaxis2: {
    overlaying: 'x', matches: 'x', side: 'bottom', anchor: 'y',
    showgrid: false, zeroline: false, showline: true, linecolor: '#000', linewidth: 2,
    ticks: 'inside', ticklen: 10, tickwidth: 2, tickcolor: '#000',
    tickmode: 'array', tickvals: bottomTickVals, ticktext: tickLabels,
    ticklabelposition: 'inside', ticklabelstandoff: 6,
    tickfont: {family: FONT, size: 13.5, color: '#333'}
  },
  shapes: [], annotations: []
};

seriesNames.forEach((name, i) => {
  const key = i === 0 ? 'yaxis' : 'yaxis' + (i + 1);
  const top = 1 + (rowOne[i] - MT) / PX_PER_UNIT;
  const ax = {
    domain: [0, 1], range: [top - PH / PX_PER_UNIT, top],
    anchor: 'free', position: 0, side: 'left',
    showgrid: false, zeroline: false, showline: false,
    ticks: 'outside', ticklen: 5, tickwidth: 2, tickcolor: '#000',
    tickmode: 'array', tickvals: [BR_LO, 1, BR_HI], ticktext: ['', '1', ''],
    tickfont: {family: FONT, size: 10, color: '#000'}, ticklabelstandoff: 2
  };
  if (i > 0) ax.overlaying = 'y';
  layout[key] = ax;
  const yref = i === 0 ? 'y' : 'y' + (i + 1);
  layout.shapes.push({type: 'line', xref: 'paper', yref: yref, x0: 0, x1: 0, y0: BR_LO, y1: BR_HI,
    line: {color: '#000', width: 2}});
  if (i > 0) {
    layout.annotations.push({
      xref: 'paper', x: px2paperX(836), xanchor: 'left',
      yref: yref, y: 1, yanchor: 'middle', yshift: i === 9 ? -13 : -16.5,
      text: '<span style="letter-spacing:1.5px">' + name + '</span>', showarrow: false,
      font: {family: FONT, size: 13, color: groupColor[seriesGroup[i]]}
    });
  }
});

Object.keys(groupTitles).forEach(g => {
  const [title, idx] = groupTitles[g];
  layout.annotations.push({
    xref: 'paper', x: px2paperX(934), xanchor: 'left',
    yref: 'y' + (idx + 1), y: 1, yanchor: 'middle', yshift: -13,
    text: '<span style="letter-spacing:2px">' + title + '</span>', showarrow: false,
    font: {family: FONT, size: 17, weight: 'bold', color: groupTitleColor[g]}
  });
});
layout.annotations.push({
  xref: 'paper', x: px2paperX(902), xanchor: 'left',
  yref: 'y', y: 1, yanchor: 'middle', yshift: -6,
  text: '<span style="letter-spacing:4.8px">' + seriesNames[0] + '</span>', showarrow: false,
  font: {family: FONT, size: 23.5, weight: 'bold', color: '#0000ff'}
});
layout.annotations.push({xref: 'x', x: 1698, xanchor: 'center', xshift: -4, yref: 'paper', y: px2paperY(38.5), yanchor: 'middle',
  text: '<span style="letter-spacing:1px">' + axisEndLabel + '</span>', showarrow: false, font: {family: FONT, size: 13.5, color: '#333'}});
layout.annotations.push({xref: 'x', x: 1698, xanchor: 'center', xshift: -2, yref: 'paper', y: px2paperY(1179.5), yanchor: 'middle',
  text: '<span style="letter-spacing:1px">' + axisEndLabel + '</span>', showarrow: false, font: {family: FONT, size: 13.5, color: '#333'}});

for (let yr = 1480; yr <= 1690; yr += 10) {
  layout.shapes.push({type: 'line', xref: 'x', yref: 'paper', x0: yr, x1: yr,
    y0: px2paperY(70), y1: px2paperY(1150), layer: 'below',
    line: {color: '#0000ff', width: 2, dash: '3px,15px'}});
}
layout.shapes.push({type: 'line', xref: 'paper', yref: 'paper', x0: px2paperX(9), x1: px2paperX(9), y0: px2paperY(7), y1: px2paperY(1240),
  line: {color: '#555', width: 1.5}});
layout.shapes.push({type: 'line', xref: 'paper', yref: 'paper', x0: px2paperX(9), x1: px2paperX(1098), y0: px2paperY(7), y1: px2paperY(7),
  line: {color: '#555', width: 1.5}});

Plotly.newPlot('chart', traces, layout, {staticPlot: true, displayModeBar: false});
</script></body></html>
